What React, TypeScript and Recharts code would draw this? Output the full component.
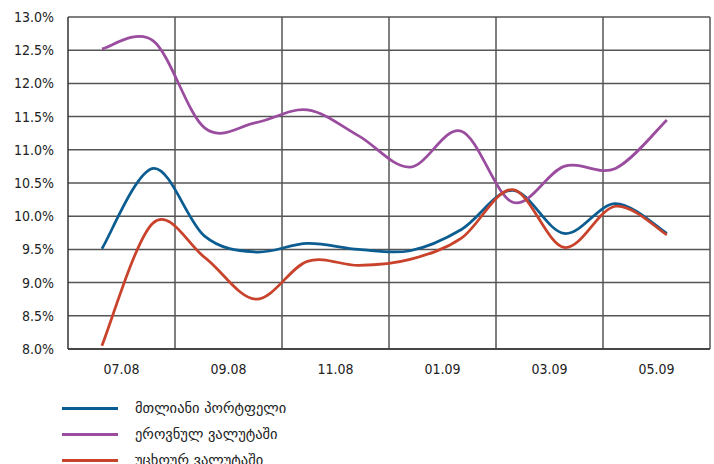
import React from 'react';
import { LineChart, Line, XAxis, YAxis, CartesianGrid, Legend } from 'recharts';

// monthly points, 07.08 .. 06.09
const months = ['07.08', '08.08', '09.08', '10.08', '11.08', '12.08', '01.09', '02.09', '03.09', '04.09', '05.09', '06.09'];
const tickLabels = ['07.08', '09.08', '11.08', '01.09', '03.09', '05.09'];
const yTicks = [8, 8.5, 9, 9.5, 10, 10.5, 11, 11.5, 12, 12.5, 13];

const totalPortfolio = [9.51, 10.72, 9.7, 9.46, 9.59, 9.5, 9.48, 9.8, 10.39, 9.74, 10.19, 9.74];
const nationalCurrency = [12.52, 12.64, 11.33, 11.41, 11.6, 11.21, 10.74, 11.28, 10.21, 10.75, 10.72, 11.45];
const foreignCurrency = [8.05, 9.9, 9.38, 8.75, 9.32, 9.26, 9.35, 9.67, 10.4, 9.53, 10.15, 9.72];

const seriesNames = ['მთლიანი პორტფელი', 'ეროვნულ ვალუტაში', 'უცხოურ ვალუტაში'];
const seriesColors = ['#0b5d91', '#9a4c9e', '#c9432c'];

// the month axis runs a bit past the first/last point, split into 6 label bands
const xDomain = [-0.66, 11.84];
const bandCount = tickLabels.length;
const bandWidth = (xDomain[1] - xDomain[0]) / bandCount;
const labelCenters = tickLabels.map((_, k) => xDomain[0] + bandWidth * (k + 0.5));

const data = months.map((m, i) => ({
  idx: i,
  month: m,
  total: totalPortfolio[i],
  national: nationalCurrency[i],
  foreign: foreignCurrency[i],
}));

// Excel-like smoothing (Catmull-Rom through every point)
const smoothCurve = (context: any) => {
  let pts: number[][] = [];
  return {
    areaStart() {},
    areaEnd() {},
    lineStart() {
      pts = [];
    },
    point(x: number, y: number) {
      pts.push([+x, +y]);
    },
    lineEnd() {
      if (!pts.length) return;
      context.moveTo(pts[0][0], pts[0][1]);
      for (let i = 0; i < pts.length - 1; i++) {
        const p0 = pts[Math.max(i - 1, 0)];
        const p1 = pts[i];
        const p2 = pts[i + 1];
        const p3 = pts[Math.min(i + 2, pts.length - 1)];
        context.bezierCurveTo(
          p1[0] + (p2[0] - p0[0]) / 6,
          p1[1] + (p2[1] - p0[1]) / 6,
          p2[0] - (p3[0] - p1[0]) / 6,
          p2[1] - (p3[1] - p1[1]) / 6,
          p2[0],
          p2[1]
        );
      }
    },
  };
};

const renderLegend = (props: any) => {
  // keep the series order instead of the alphabetical one
  const items = [...(props.payload || [])].sort(
    (a: any, b: any) => seriesNames.indexOf(a.value) - seriesNames.indexOf(b.value)
  );
  return (
    <div style={{ height: 75, paddingTop: 6, boxSizing: 'border-box' }}>
      {items.map((entry: any) => (
        <div key={entry.value} style={{ display: 'flex', alignItems: 'center', height: 26 }}>
          <span style={{ marginLeft: 62, width: 56, height: 3, background: entry.color, display: 'inline-block' }} />
          <span style={{ marginLeft: 17, fontSize: 14.5, color: '#222', fontFamily: '"DejaVu Sans", sans-serif' }}>
            {entry.value}
          </span>
        </div>
      ))}
    </div>
  );
};

const gridColumns = ({ offset }: any) =>
  tickLabels.map((_, k) => offset.left + (offset.width * (k + 1)) / bandCount);

export default function App() {
  return (
    <div style={{ position: 'absolute', left: 0, top: 0, fontFamily: '"DejaVu Sans Condensed", "DejaVu Sans", sans-serif' }}>
      <LineChart width={714} height={464} data={data} margin={{ top: 17, right: 4, left: 0, bottom: 0 }}>
        <CartesianGrid stroke="#555" strokeWidth={1.5} verticalCoordinatesGenerator={gridColumns} />
        <XAxis
          dataKey="idx"
          type="number"
          domain={xDomain}
          ticks={labelCenters}
          interval={0}
          tickFormatter={(_v: number, i: number) => tickLabels[i]}
          tickLine={false}
          axisLine={{ stroke: '#333', strokeWidth: 1.5 }}
          tickMargin={9}
          height={40}
          tick={{ fill: '#222', fontSize: 14 }}
        />
        <YAxis
          type="number"
          domain={[8, 13]}
          ticks={yTicks}
          interval={0}
          tickFormatter={(v: number) => v.toFixed(1) + '%'}
          tickLine={false}
          axisLine={{ stroke: '#333', strokeWidth: 1.5 }}
          tickMargin={8}
          width={68}
          tick={{ fill: '#222', fontSize: 14 }}
        />
        <Legend verticalAlign="bottom" align="left" content={renderLegend} />
        <Line dataKey="total" name={seriesNames[0]} stroke={seriesColors[0]} strokeWidth={2.75} type={smoothCurve as any} dot={false} activeDot={false} isAnimationActive={false} />
        <Line dataKey="national" name={seriesNames[1]} stroke={seriesColors[1]} strokeWidth={2.75} type={smoothCurve as any} dot={false} activeDot={false} isAnimationActive={false} />
        <Line dataKey="foreign" name={seriesNames[2]} stroke={seriesColors[2]} strokeWidth={2.75} type={smoothCurve as any} dot={false} activeDot={false} isAnimationActive={false} />
      </LineChart>
    </div>
  );
}
